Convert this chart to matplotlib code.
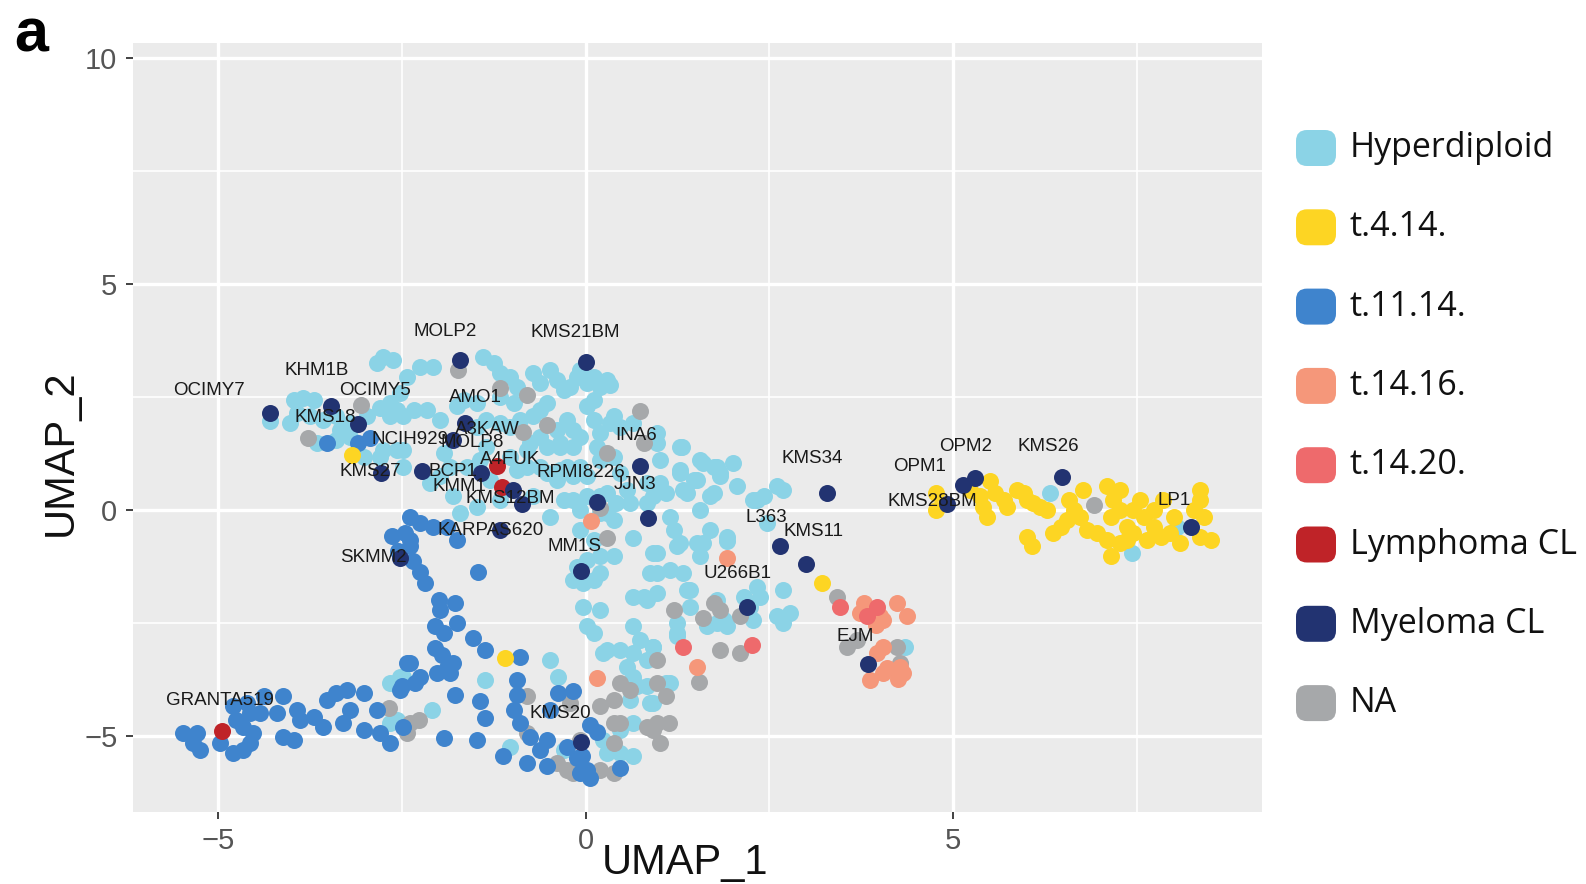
import matplotlib
matplotlib.use("Agg")
import matplotlib.pyplot as plt
from matplotlib.patches import FancyBboxPatch
from matplotlib.ticker import FixedLocator

# ---------------- data (UMAP coordinates per subtype) ----------------
hyperdiploid = [
    (-4.29, 1.96), (-3.97, 2.44), (-3.84, 2.47), (-3.70, 2.44), (-4.02, 1.92), (-3.93, 2.14),
    (-3.75, 2.07), (-3.57, 1.99), (-3.39, 2.07), (-3.34, 1.77), (-3.20, 1.92), (-2.98, 2.07),
    (-2.80, 2.25), (-2.66, 2.36), (-2.57, 2.21), (-2.52, 2.58), (-2.84, 3.25), (-2.75, 3.39),
    (-2.62, 3.32), (-2.66, 2.07), (-2.48, 2.07), (-2.80, 1.18), (-3.02, 1.18), (-3.20, 1.62),
    (-3.39, 1.55), (-3.66, 1.48), (-2.75, 1.33), (-2.57, 1.33),
    (-2.43, 2.95), (-2.25, 3.17), (-2.07, 3.17), (-2.34, 2.21), (-2.16, 2.21), (-1.98, 1.99),
    (-1.75, 2.29), (-1.66, 2.44), (-1.48, 2.36), (-1.39, 3.39), (-1.25, 3.25), (-1.16, 3.03),
    (-1.03, 2.95), (-0.94, 2.73), (-1.16, 2.51), (-0.98, 2.36), (-1.35, 1.99), (-1.48, 1.84),
    (-1.16, 1.92), (-1.03, 1.84), (-0.89, 1.99), (-0.71, 2.07), (-0.62, 2.21), (-0.53, 2.36),
    (-0.48, 3.10), (-0.71, 3.03), (-0.62, 2.80), (-0.39, 2.88), (-0.30, 2.66), (-0.21, 2.73),
    (-0.12, 2.95), (-0.07, 3.10), (0.02, 2.80), (0.11, 2.95), (0.20, 2.73), (0.29, 2.88),
    (0.11, 2.44), (0.02, 2.29), (-0.26, 1.99), (-0.39, 1.77), (-0.17, 1.77), (-0.07, 1.62),
    (0.11, 1.99), (0.20, 1.70), (0.38, 2.07), (0.47, 1.84), (0.65, 1.92), (-0.17, 1.40),
    (-0.35, 1.48), (-0.53, 1.40), (-0.80, 1.33), (-1.03, 1.18), (-1.35, 1.40), (-1.44, 1.11),
    (-1.62, 0.96), (-1.84, 0.96), (-1.93, 1.25), (-2.48, 1.33), (-2.48, 0.96), (-2.12, 0.59),
    (-1.98, 0.74), (-1.80, 0.30), (-1.48, 0.07), (-0.80, 0.96), (-0.62, 0.96), (-0.53, 0.81),
    (-0.35, 0.89), (-0.17, 0.74), (0.02, 0.74), (0.20, 1.11), (0.38, 1.18), (0.47, 0.81),
    (0.56, 0.44), (0.42, 0.15), (0.20, 0.30), (0.29, -0.07), (0.02, 0.30), (-0.17, 0.22),
    (-0.48, -0.15), (-0.71, 0.30), (-1.16, 0.22), (-1.71, -0.07), (0.20, -0.07), (0.38, -0.22),
    (0.65, -0.63), (-0.07, -0.44), (0.11, -0.66), (0.92, 0.30), (0.83, 0.59),
    (0.97, 1.70), (0.97, 1.48), (1.31, 1.40), (1.01, 1.11), (1.29, 0.81), (0.97, 0.44),
    (1.15, -0.15), (1.20, -0.44), (1.29, -0.74), (1.56, 0.00), (1.33, 0.44), (1.51, 0.66),
    (1.69, 0.30), (1.60, 1.03), (1.79, 0.96), (1.83, 0.81), (2.01, 1.03), (2.06, 0.52),
    (2.33, 0.22), (2.42, 0.30), (2.60, 0.52), (2.69, 0.44), (2.47, -0.30), (1.92, -0.59),
    (1.60, -0.74),
    (1.29, 0.89), (1.56, 1.11), (1.74, 0.96), (1.83, 0.74), (1.47, 0.66), (1.38, 0.37),
    (1.74, 0.37), (2.28, 0.22), (1.10, 0.37), (0.83, 0.15), (0.61, 0.15), (1.01, 0.59),
    (0.29, 0.37), (-0.07, 0.96), (0.15, 1.40), (-0.35, 1.40), (-0.62, 1.62), (-0.26, 0.96),
    (-0.39, 0.66), (-0.30, 0.22), (-0.07, 0.00), (0.33, 2.77), (0.33, 1.92), (1.29, 1.40),
    (-0.75, 1.48), (-0.94, 0.89), (-1.30, 0.66), (1.69, -0.44),
    (-0.12, -1.26), (0.02, -1.11), (0.20, -1.03), (0.38, -1.03), (-0.17, -1.55), (-0.03, -1.62),
    (0.11, -1.55), (0.20, -1.40), (0.65, -1.92), (0.83, -1.99), (0.88, -1.40), (0.92, -0.96),
    (-0.03, -2.14), (0.20, -2.21), (0.02, -2.58), (0.11, -2.73), (0.29, -3.10), (0.47, -3.10),
    (0.65, -2.58), (0.74, -2.88), (0.65, -3.17), (0.83, -3.32), (0.92, -3.03), (0.56, -3.47),
    (0.65, -3.69), (0.83, -3.91), (0.88, -4.28), (0.61, -4.21), (0.47, -4.87), (0.65, -4.72),
    (0.29, -5.39), (0.47, -5.39), (0.65, -5.46), (0.24, -5.09), (-2.48, -3.69),
    (0.24, -3.17), (0.70, -3.91), (0.79, -1.92), (1.38, -1.77), (1.24, -2.73), (1.10, -3.84),
    (-1.37, -3.76), (-2.09, -4.43), (-0.48, -3.32), (-0.37, -3.69), (-1.03, -5.24), (-0.30, -5.31),
    (0.97, -0.96), (1.24, -0.81), (1.56, -1.03), (1.51, -0.74), (1.92, -0.70), (0.97, -1.40),
    (1.15, -1.33), (1.33, -1.40), (1.42, -1.77), (0.97, -1.85), (1.24, -2.51), (1.24, -2.80),
    (1.42, -2.14), (1.79, -1.99), (1.88, -2.43), (1.92, -2.58), (2.15, -1.92), (2.33, -1.70),
    (2.37, -1.92), (2.24, -2.14), (2.28, -2.43), (2.69, -1.77), (2.60, -2.36), (2.78, -2.29),
    (2.69, -2.51), (0.92, -3.03), (0.92, -4.28), (1.15, -3.84), (1.79, -2.51), (1.65, -2.58),
    (-2.66, -3.84), (-2.52, -3.69), (-2.66, -4.72), (-2.57, -4.65),
    (6.32, 0.37), (7.43, -0.96), (8.04, -0.37), (4.35, -3.04),
]

not_available = [
    (-3.77, 1.59), (-3.05, 2.33), (-1.73, 3.10), (-1.16, 2.69), (-0.80, 2.55), (-0.53, 1.88),
    (-0.85, 1.73), (0.29, 1.25), (0.74, 2.18), (0.79, 1.48), (0.29, -0.63), (0.20, 0.04),
    (6.91, 0.11), (-2.68, -4.39), (-2.43, -4.94), (-0.80, -4.13), (-2.39, -4.72), (-2.27, -4.65),
    (-0.80, -4.94), (-0.21, -4.28), (-0.07, -5.09), (0.20, -4.35), (0.38, -4.21), (0.47, -3.84),
    (0.61, -3.99), (0.97, -3.32), (0.83, -4.80), (0.92, -4.87), (0.38, -4.72), (0.20, -5.76),
    (0.38, -5.83), (-0.39, -5.61), (-0.26, -5.76), (-0.17, -5.83), (1.20, -2.21), (1.60, -2.40),
    (1.74, -2.07), (1.83, -2.21), (2.10, -2.36), (1.83, -3.10), (2.10, -3.17), (0.97, -3.84),
    (1.10, -4.13), (0.97, -4.72), (1.13, -4.72), (1.01, -5.17), (1.54, -3.80), (3.42, -1.92),
    (3.55, -3.03), (3.69, -2.88), (4.23, -3.03), (4.28, -3.39), (0.38, -5.17), (0.47, -4.72),
]

t_11_14 = [
    (-3.52, 1.48), (-3.09, 1.48), (-2.93, 1.60),
    (-2.39, -0.15), (-2.25, -0.30), (-2.07, -0.37), (-1.89, -0.37), (-1.75, -0.66), (-2.39, -0.66),
    (-2.63, -0.58), (-2.45, -0.51), (-2.55, -0.92), (-2.35, -1.14),
    (-2.39, -0.81), (-2.25, -1.37), (-2.18, -1.62), (-2.00, -1.99), (-1.98, -2.21), (-1.78, -2.07),
    (-2.05, -2.58), (-1.93, -2.73), (-1.75, -2.51), (-1.53, -2.84), (-1.37, -3.10), (-2.05, -3.06),
    (-1.96, -3.21), (-1.80, -3.39), (-1.89, -3.51), (-2.39, -3.39), (-2.25, -3.69), (-2.32, -3.84),
    (-2.02, -3.62), (-1.84, -3.62), (-0.89, -3.25), (-0.94, -3.76), (-0.94, -4.10), (-0.98, -4.43),
    (-0.89, -4.72), (-0.76, -5.02), (-1.78, -4.10), (-1.44, -4.24), (-1.37, -4.61), (-1.93, -5.06),
    (-1.48, -5.09), (-1.46, -1.37), (-0.37, -4.06), (-0.17, -4.02), (-0.48, -4.43), (0.06, -4.76),
    (0.15, -4.91), (-0.53, -5.09), (-0.62, -5.31), (-1.12, -5.46), (-0.80, -5.61), (-0.26, -5.24),
    (-0.12, -5.50), (0.02, -5.76), (-0.05, -5.46), (-0.07, -5.83), (-0.53, -5.68), (-2.50, -3.91),
    (0.47, -5.72), (0.06, -5.94),
    (-5.47, -4.94), (-5.29, -4.94), (-5.34, -5.17), (-5.24, -5.31), (-4.97, -5.17), (-4.79, -5.39),
    (-4.66, -5.31), (-4.56, -5.17), (-4.52, -4.94), (-4.66, -4.80), (-4.75, -4.65), (-4.79, -4.35),
    (-4.61, -4.28), (-4.56, -4.50), (-4.43, -4.50), (-4.38, -4.13), (-4.20, -4.50), (-4.11, -4.13),
    (-3.93, -4.43), (-3.88, -4.65), (-4.11, -5.02), (-3.97, -5.09), (-3.70, -4.58), (-3.57, -4.80),
    (-3.52, -4.21), (-3.39, -4.06), (-3.25, -3.99), (-3.20, -4.43), (-3.30, -4.72), (-3.02, -4.06),
    (-3.02, -4.87), (-2.84, -4.43), (-2.80, -4.94), (-2.66, -5.17), (-2.43, -3.39), (-2.52, -3.99),
    (-2.48, -4.80),
]

t_14_16 = [
    (0.08, -0.24), (0.15, -3.73), (1.92, -1.07), (1.51, -3.47), (3.78, -2.07), (4.05, -2.43),
    (4.23, -2.07), (4.37, -2.36), (4.05, -3.03), (3.96, -3.17), (3.87, -3.76), (4.05, -3.62),
    (4.28, -3.47), (4.32, -3.62), (3.73, -2.29), (4.01, -2.36), (4.10, -3.50), (4.25, -3.75),
    (3.95, -2.55),
]

t_14_20 = [(1.33, -3.03), (2.26, -2.99), (3.46, -2.14), (3.96, -2.14), (3.83, -2.36)]

t_4_14 = [
    (4.76, 0.37), (4.76, 0.00), (5.23, 0.44), (5.37, 0.30), (5.41, 0.07), (5.50, 0.63),
    (5.57, 0.37), (5.46, -0.15), (5.69, 0.22), (5.73, 0.07), (5.87, 0.44), (5.96, 0.37),
    (6.00, 0.22), (6.09, 0.15), (6.18, 0.07), (6.27, 0.00), (6.00, -0.59), (6.07, -0.81),
    (6.36, -0.52), (6.46, -0.37), (6.55, -0.22), (6.57, 0.22), (6.64, 0.00), (6.73, -0.15),
    (6.77, 0.44), (6.82, -0.44), (6.95, -0.52), (7.09, 0.52), (7.14, -0.15), (7.18, 0.22),
    (7.27, 0.44), (7.27, 0.00), (7.36, -0.37), (7.45, -0.52), (7.54, 0.22), (7.59, -0.15),
    (7.63, -0.66), (7.73, -0.37), (7.82, -0.59), (7.86, 0.22), (7.95, -0.52), (8.00, -0.15),
    (8.09, -0.74), (8.27, 0.00), (8.36, 0.44), (8.36, 0.22), (8.41, -0.15), (8.50, -0.66),
    (7.14, -1.03), (7.09, -0.66), (7.27, -0.74), (7.45, 0.00), (7.73, 0.00), (7.36, -0.66),
    (8.36, -0.59),
    (-3.18, 1.21), (-1.09, -3.29), (3.21, -1.62),
]

lymphoma_cl = [(-4.95, -4.90), (-1.21, 0.97), (-1.14, 0.51)]

myeloma_cl = [
    (-4.29, 2.15), (-3.47, 2.30), (-3.10, 1.90), (-2.79, 0.81), (-2.23, 0.87), (-1.71, 3.31),
    (0.00, 3.27), (-1.64, 1.93), (-1.80, 1.55), (-1.42, 0.81), (-0.99, 0.45), (-0.87, 0.14),
    (-1.17, -0.45), (0.15, 0.18), (0.74, 0.98), (0.85, -0.17), (-0.06, -1.36), (-2.53, -1.07),
    (3.29, 0.38), (2.64, -0.80), (3.00, -1.20), (2.19, -2.14), (3.84, -3.42), (5.30, 0.70),
    (5.13, 0.55), (4.91, 0.12), (6.48, 0.72), (8.23, -0.38), (-0.06, -5.13),
]

categories = ["Hyperdiploid", "t.4.14.", "t.11.14.", "t.14.16.", "t.14.20.",
              "Lymphoma CL", "Myeloma CL", "NA"]
colors = {
    "Hyperdiploid": "#8BD3E6",
    "t.4.14.": "#FDD523",
    "t.11.14.": "#3F84CD",
    "t.14.16.": "#F5977A",
    "t.14.20.": "#EE6A6C",
    "Lymphoma CL": "#BF2328",
    "Myeloma CL": "#223371",
    "NA": "#A6A8AA",
}
series = {
    "Hyperdiploid": hyperdiploid,
    "t.4.14.": t_4_14,
    "t.11.14.": t_11_14,
    "t.14.16.": t_14_16,
    "t.14.20.": t_14_20,
    "Lymphoma CL": lymphoma_cl,
    "Myeloma CL": myeloma_cl,
    "NA": not_available,
}
draw_order = ["Hyperdiploid", "NA", "t.11.14.", "t.14.16.", "t.14.20.", "t.4.14.",
              "Lymphoma CL", "Myeloma CL"]

label_names = ["OCIMY7", "KHM1B", "OCIMY5", "KMS18", "NCIH929", "MOLP2", "KMS21BM", "AMO1",
               "A3KAW", "MOLP8", "INA6", "A4FUK", "BCP1", "RPMI8226", "KMS27", "KMM1", "JJN3",
               "KMS12BM", "KARPAS620", "MM1S", "SKMM2", "KMS34", "OPM2", "KMS26", "OPM1",
               "KMS28BM", "LP1", "L363", "KMS11", "U266B1", "EJM", "GRANTA519", "KMS20"]
label_x = [-5.12, -3.66, -2.87, -3.54, -2.39, -1.91, -0.14, -1.50, -1.33, -1.54, 0.69, -1.02,
           -1.80, -0.07, -2.93, -1.71, 0.67, -1.03, -1.29, -0.15, -2.89, 3.08, 5.17, 6.30,
           4.54, 4.72, 8.01, 2.46, 3.10, 2.06, 3.67, -4.98, -0.34]
label_y = [2.64, 3.09, 2.64, 2.04, 1.55, 3.96, 3.92, 2.48, 1.77, 1.50, 1.64, 1.12, 0.85, 0.83,
           0.85, 0.52, 0.56, 0.25, -0.45, -0.81, -1.05, 1.14, 1.41, 1.41, 0.96, 0.18, 0.20,
           -0.17, -0.47, -1.41, -2.80, -4.23, -4.50]

x_ticks = [-5, 0, 5]
y_ticks = [-5, 0, 5, 10]

# ---------------- figure ----------------
W, H = 1586, 884
fig = plt.figure(figsize=(W / 100, H / 100), dpi=100)
ax = fig.add_axes([0.0837, 0.0814, 0.7120, 0.8696])
ax.set_facecolor("#EBEBEB")
ax.set_xlim(-6.16, 9.20)
ax.set_ylim(-6.69, 10.33)

ax.xaxis.set_major_locator(FixedLocator(x_ticks))
ax.yaxis.set_major_locator(FixedLocator(y_ticks))
ax.xaxis.set_minor_locator(FixedLocator([-2.5, 2.5, 7.5]))
ax.yaxis.set_minor_locator(FixedLocator([-2.5, 2.5, 7.5]))
ax.grid(which="major", color="white", linewidth=2.4)
ax.grid(which="minor", color="white", linewidth=1.2)
ax.set_axisbelow(True)
for s in ax.spines.values():
    s.set_visible(False)

tick_font = ["Liberation Sans Narrow", "Liberation Sans", "DejaVu Sans"]
ax.tick_params(which="major", length=5, width=1.3, color="#333333",
               labelsize=21, labelcolor="#555555", pad=6)
ax.tick_params(which="minor", length=0)
for lab in ax.get_xticklabels() + ax.get_yticklabels():
    lab.set_family(tick_font)

ax.set_xlabel("UMAP_1", fontsize=30, family=tick_font, color="#111111")
ax.set_ylabel("UMAP_2", fontsize=30, family=tick_font, color="#111111")
ax.xaxis.set_label_coords(0.489, -0.040)
ax.yaxis.set_label_coords(-0.046, 0.468)

for cat in draw_order:
    pts = series[cat]
    xs = [p[0] for p in pts]
    ys = [p[1] for p in pts]
    ax.scatter(xs, ys, s=150, color=colors[cat], linewidths=0, zorder=3)

for name, lx, ly in zip(label_names, label_x, label_y):
    ax.text(lx, ly, name, fontsize=13.5, family=["Liberation Sans", "DejaVu Sans"],
            color="#1A1A1A", ha="center", va="center", zorder=5)

# panel tag
fig.text(31 / W, 1 - 36 / H, "a", fontsize=44, fontweight="bold",
         family=["Liberation Sans", "DejaVu Sans"], ha="center", va="center")

# legend drawn in pixel space
lax = fig.add_axes([0, 0, 1, 1], zorder=10)
lax.set_xlim(0, W)
lax.set_ylim(H, 0)
lax.axis("off")
key_left, key_w, key_h = 1296, 40, 36
y0, step = 148, 79.3
for i, cat in enumerate(categories):
    yc = y0 + i * step
    lax.add_patch(FancyBboxPatch((key_left, yc - key_h / 2), key_w, key_h,
                                 boxstyle="round,pad=0,rounding_size=11",
                                 facecolor=colors[cat], edgecolor="none"))
    lax.text(1350, yc, cat, fontsize=24.5, family=["Open Sans", "DejaVu Sans"],
             color="#111111", ha="left", va="center")

fig.savefig("out.png", dpi=100)
